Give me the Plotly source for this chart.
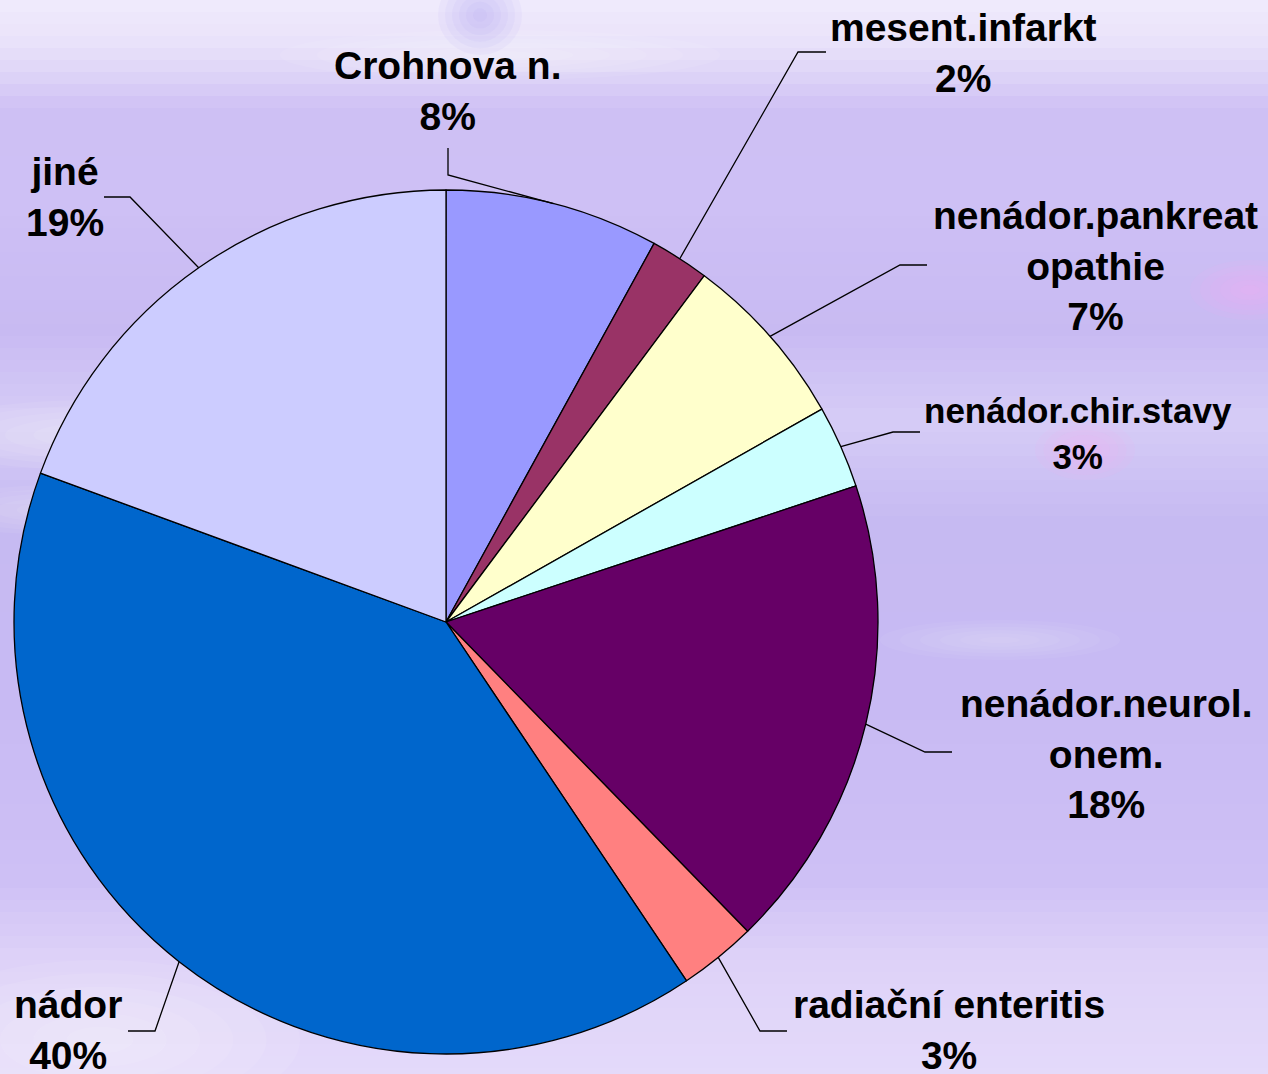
import math
import plotly.graph_objects as go

# data
categories = ['Crohnova n.', 'mesent.infarkt', 'nenádor.pankreatopathie', 'nenádor.chir.stavy',
              'nenádor.neurol.onem.', 'radiační enteritis', 'nádor', 'jiné']
label_text = ['Crohnova n.', 'mesent.infarkt', 'nenádor.pankreat<br>opathie', 'nenádor.chir.stavy',
              'nenádor.neurol.<br>onem.', 'radiační enteritis', 'nádor', 'jiné']
values = [8.0, 2.2, 6.6, 3.1, 17.8, 2.9, 40.0, 19.4]
colors = ['#9999ff', '#993366', '#ffffcc', '#ccffff', '#660066', '#ff8080', '#0066cc', '#ccccff']

W, H = 1268, 1074
CX, CY, R = 446, 622, 432  # pie centre / radius in px

# label placement (px): text centre, elbow of leader, end of leader, font size
label_pos = [(448, 91), (963, 53), (1095, 266), (1078, 433), (1106, 754), (949, 1030), (68, 1030), (65, 197)]
elbow_pos = [(448, 175), (798, 52), (900, 265), (893, 432), (925, 752), (760, 1031), (155, 1031), (130, 197)]
end_pos = [(448, 148), (826, 52), (927, 265), (920, 432), (952, 752), (787, 1031), (128, 1031), (104, 197)]
font_sizes = [39, 39, 39, 35, 39, 39, 39, 39]

def px(x, y):
    return x / W, 1 - y / H

fig = go.Figure()

fig.add_trace(go.Pie(
    labels=categories, values=values, sort=False, direction='clockwise', rotation=0,
    marker=dict(colors=colors, line=dict(color='black', width=1.3)),
    textinfo='none', hoverinfo='label+percent', showlegend=False,
    domain=dict(x=[(CX - R) / W, (CX + R) / W], y=[1 - (CY + R) / H, 1 - (CY - R) / H]),
))

# background gradient (approximate of the lavender water picture)
bg_stops = [(0, (240, 235, 252)), (40, (234, 227, 250)), (70, (224, 214, 248)), (110, (206, 192, 244)),
            (200, (206, 192, 245)), (330, (200, 186, 242)), (420, (214, 204, 246)), (520, (198, 186, 242)),
            (700, (200, 186, 243)), (880, (206, 192, 245)), (960, (222, 210, 248)), (1074, (228, 218, 250))]

def bg_color(y):
    for (y0, c0), (y1, c1) in zip(bg_stops[:-1], bg_stops[1:]):
        if y0 <= y <= y1:
            t = (y - y0) / (y1 - y0)
            c = [round(a + (b - a) * t) for a, b in zip(c0, c1)]
            return 'rgb(%d,%d,%d)' % tuple(c)
    return 'rgb(%d,%d,%d)' % bg_stops[-1][1]

shapes = []
step = 12
for y in range(0, H, step):
    x0, y0 = px(0, y)
    x1, y1 = px(W, y + step + 1)
    shapes.append(dict(type='rect', xref='paper', yref='paper', x0=x0, x1=x1, y0=y1, y1=y0,
                       fillcolor=bg_color(y + step / 2), line=dict(width=0), layer='below'))

# soft highlights in the background picture (centre x, centre y, half width, half height, rgb, alpha)
glows = [(90, 435, 170, 35, '255,255,255', 0.45), (60, 510, 130, 25, '255,255,255', 0.35),
         (100, 1040, 200, 80, '255,255,255', 0.5), (1085, 450, 50, 30, '250,170,240', 0.5),
         (1250, 290, 60, 30, '250,170,240', 0.5), (500, 55, 220, 25, '255,255,255', 0.5),
         (480, 15, 42, 40, '160,150,240', 0.45), (1000, 640, 120, 20, '255,255,255', 0.3)]
n_rings = 6
for gx, gy, hw, hh, rgb, alpha in glows:
    for k in range(n_rings):
        s = 1 - k / n_rings
        a0, b0 = px(gx - hw * s, gy - hh * s)
        a1, b1 = px(gx + hw * s, gy + hh * s)
        shapes.append(dict(type='circle', xref='paper', yref='paper', x0=a0, x1=a1, y0=b1, y1=b0,
                           fillcolor='rgba(%s,%.3f)' % (rgb, alpha / n_rings), line=dict(width=0),
                           layer='below'))

# leader lines from slice mid-angles
total = sum(values)
cum = 0
annotations = []
for i, v in enumerate(values):
    mid = (cum + v / 2) / total * 2 * math.pi
    cum += v
    sx, sy = CX + R * math.sin(mid), CY - R * math.cos(mid)
    pts = [px(sx, sy), px(*elbow_pos[i]), px(*end_pos[i])]
    path = 'M %f,%f L %f,%f L %f,%f' % (pts[0] + pts[1] + pts[2])
    shapes.append(dict(type='path', xref='paper', yref='paper', path=path,
                       line=dict(color='black', width=1.3)))
    lx, ly = px(*label_pos[i])
    annotations.append(dict(
        x=lx, y=ly, xref='paper', yref='paper', showarrow=False, align='center',
        xanchor='center', yanchor='middle',
        text='<b>%s<br>%d%%</b>' % (label_text[i], round(v / total * 100)),
        font=dict(family='Liberation Sans, Arial', size=font_sizes[i], color='black'),
    ))

fig.update_layout(
    width=W, height=H,
    margin=dict(l=0, r=0, t=0, b=0),
    paper_bgcolor='#cdbff3',
    plot_bgcolor='rgba(0,0,0,0)',
    shapes=shapes,
    annotations=annotations,
)

fig.write_html("out.html", config={'displayModeBar': False},
               post_script="document.body.style.margin='0px';")
